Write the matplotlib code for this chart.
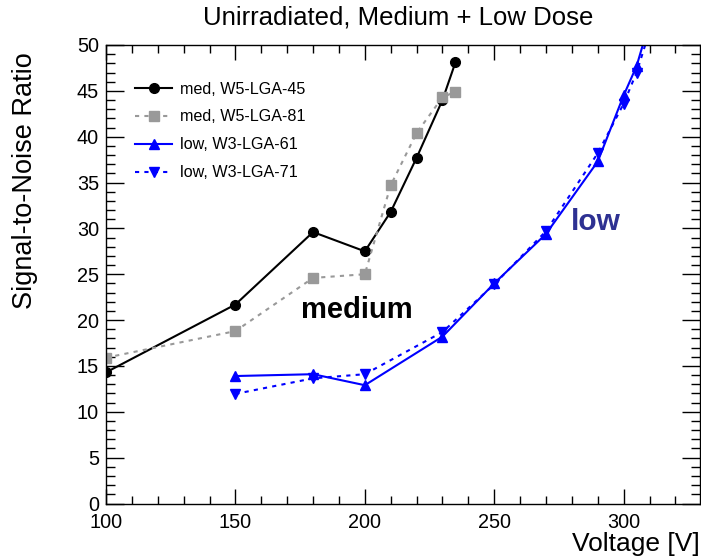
import numpy as np
import matplotlib
matplotlib.use('Agg')
import matplotlib.pyplot as plt
from matplotlib.ticker import MultipleLocator

plt.rcParams['font.family'] = ['Liberation Sans', 'DejaVu Sans']

# data
v_med45 = [100, 150, 180, 200, 210, 220, 230, 235]
snr_med45 = [14.3, 21.7, 29.6, 27.5, 31.8, 37.7, 44.0, 48.1]

v_med81 = [100, 150, 180, 200, 210, 220, 230, 235]
snr_med81 = [15.9, 18.8, 24.6, 25.0, 34.7, 40.4, 44.3, 44.9]

v_low61 = [150, 180, 200, 230, 250, 270, 290, 300, 305, 310]
snr_low61 = [13.9, 14.1, 12.9, 18.2, 24.0, 29.4, 37.3, 44.5, 47.7, 52.5]

v_low71 = [150, 180, 200, 230, 250, 270, 290, 300, 305, 310]
snr_low71 = [11.95, 13.65, 14.1, 18.7, 23.9, 29.7, 38.2, 43.6, 47.0, 51.5]

fig = plt.figure(figsize=(7.01, 5.58), dpi=100)
ax = fig.add_axes([106/701, 1 - 503.5/558, (700 - 106)/701, (503.5 - 45)/558])

ax.plot(v_med45, snr_med45, color='black', lw=1.5, marker='o', ms=7,
        label='med, W5-LGA-45')
ax.plot(v_med81, snr_med81, color='#999999', lw=1.5, ls=(0, (2, 2.5)), marker='s', ms=6.5,
        label='med, W5-LGA-81')
ax.plot(v_low61, snr_low61, color='#0000ff', lw=1.5, marker='^', ms=7,
        label='low, W3-LGA-61')
ax.plot(v_low71, snr_low71, color='#0000ff', lw=1.5, ls=(0, (2, 2.5)), marker='v', ms=7,
        label='low, W3-LGA-71')

ax.set_xlim(100, 329.5)
ax.set_ylim(0, 50)

ax.xaxis.set_major_locator(MultipleLocator(50))
ax.xaxis.set_minor_locator(MultipleLocator(10))
ax.yaxis.set_major_locator(MultipleLocator(5))
ax.yaxis.set_minor_locator(MultipleLocator(1))
ax.tick_params(axis='both', which='both', direction='in', labelsize=14.3, width=1)
ax.tick_params(axis='y', which='major', length=13, right=True, pad=5)
ax.tick_params(axis='y', which='minor', length=6.5, right=True)
ax.tick_params(axis='x', which='major', length=11, top=True, pad=6.5)
ax.tick_params(axis='x', which='minor', length=5.5, top=True)
for s in ax.spines.values():
    s.set_linewidth(1)

fig.text(398.5/701, 1 - 18/558, 'Unirradiated, Medium + Low Dose', fontsize=18.5,
         ha='center', va='center')
ax.set_ylabel('Signal-to-Noise Ratio', fontsize=19.5)
ax.yaxis.set_label_coords(-0.114, 0.985)
ax.yaxis.label.set_horizontalalignment('right')
ax.set_xlabel('Voltage [V]', fontsize=19)
ax.xaxis.set_label_coords(1.0, -0.062)
ax.xaxis.label.set_horizontalalignment('right')

ax.text(196.9, 21.1, 'medium', fontsize=21, fontweight='bold', ha='center', va='center')
ax.text(289.2, 30.7, 'low', fontsize=21.5, fontweight='bold', color='#2e3192', ha='center', va='center')

ax.legend(loc='upper left', bbox_to_anchor=(0.0245, 0.952), frameon=False, fontsize=11.6,
          handlelength=2.3, labelspacing=0.8, handletextpad=0.5, borderpad=0.4)

fig.savefig('out.png', dpi=100)
